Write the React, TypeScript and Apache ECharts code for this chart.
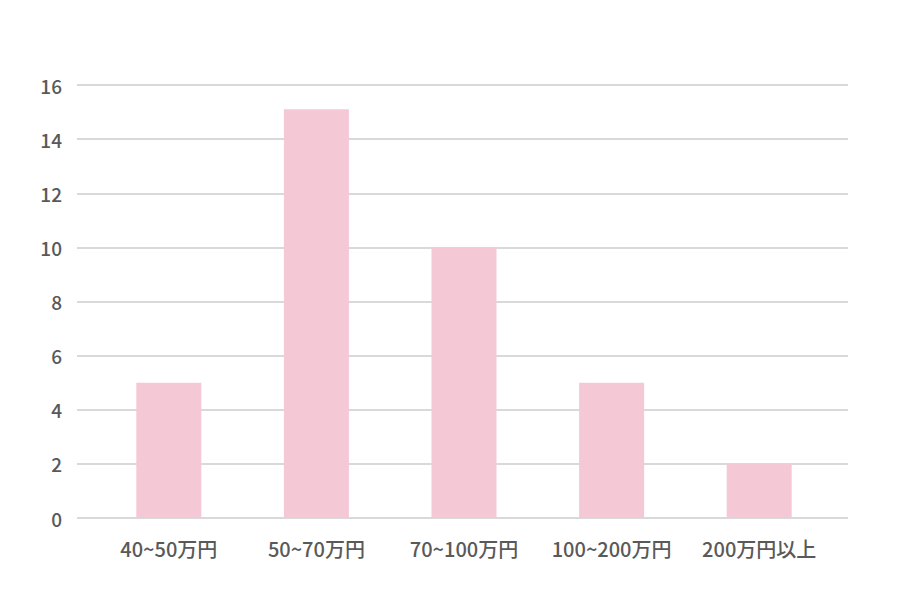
import React, { useEffect, useRef } from "react";
import * as echarts from "echarts";

const categories = ["40~50万円", "50~70万円", "70~100万円", "100~200万円", "200万円以上"];
const values = [5, 15.1, 10, 5, 2];
const yTicks = { min: 0, max: 16, interval: 2 };

export default function App() {
  const ref = useRef<HTMLDivElement>(null);
  useEffect(() => {
    document.body.style.margin = "0";
    if (!ref.current) return;
    const chart = echarts.init(ref.current, undefined, { renderer: "svg" });
    const font = "'Noto Sans CJK JP', 'Noto Sans', sans-serif";
    chart.setOption({
      animation: false,
      backgroundColor: "#ffffff",
      grid: [
        { left: 77, right: 72, top: 85, bottom: 94 },
        { left: 95, right: 87, top: 85, bottom: 94 },
      ],
      xAxis: [
        { type: "value", gridIndex: 0, show: false, min: 0, max: 1 },
        {
          type: "category",
          gridIndex: 1,
          data: categories,
          axisLine: { show: false },
          axisTick: { show: false },
          axisLabel: {
            interval: 0,
            hideOverlap: false,
            color: "#595959",
            fontSize: 20,
            fontWeight: 500,
            fontFamily: font,
            margin: 20,
          },
        },
      ],
      yAxis: [
        {
          type: "value",
          gridIndex: 0,
          min: yTicks.min,
          max: yTicks.max,
          interval: yTicks.interval,
          axisLine: { show: false },
          axisTick: { show: false },
          axisLabel: { color: "#595959", fontSize: 19, fontWeight: 500, fontFamily: font, margin: 15 },
          splitLine: { lineStyle: { color: "#d9d9d9", width: 2 } },
        },
        {
          type: "value",
          gridIndex: 1,
          min: yTicks.min,
          max: yTicks.max,
          interval: yTicks.interval,
          show: false,
          splitLine: { show: false },
        },
      ],
      series: [
        {
          type: "bar",
          xAxisIndex: 1,
          yAxisIndex: 1,
          data: values,
          barWidth: 65,
          itemStyle: { color: "#f5c8d6" },
        },
      ],
    });
    return () => chart.dispose();
  }, []);
  return <div ref={ref} style={{ width: 920, height: 612 }} />;
}
